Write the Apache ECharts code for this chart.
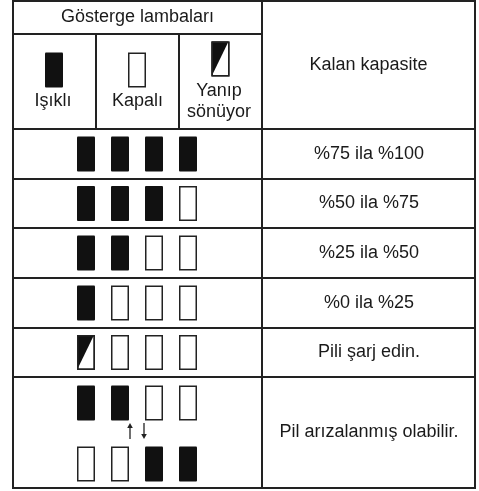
<!DOCTYPE html>
<html><head><meta charset="utf-8">
<script src="https://cdn.jsdelivr.net/npm/echarts@6/dist/echarts.min.js"></script>
<style>html,body{margin:0;padding:0;background:#fff}#c{width:479px;height:491px}</style>
</head><body><div id="c"></div>
<script>
// ---- data ----
const headerTitle = 'Gösterge lambaları';
const capacityHeader = 'Kalan kapasite';
const legendLabels = ['Işıklı', 'Kapalı', 'Yanıp\nsönüyor'];
const legendStates = ['on', 'off', 'blink'];
const capacityLabels = ['%75 ila %100', '%50 ila %75', '%25 ila %50', '%0 ila %25', 'Pili şarj edin.', 'Pil arızalanmış olabilir.'];
const lampRows = [
  [['on', 'on', 'on', 'on']],
  [['on', 'on', 'on', 'off']],
  [['on', 'on', 'off', 'off']],
  [['on', 'off', 'off', 'off']],
  [['blink', 'off', 'off', 'off']],
  [['on', 'on', 'off', 'off'], ['off', 'off', 'on', 'on']]
];

// ---- layout (axis units = pixels) ----
const L = 13, R = 475, T = 1, B = 488, MID = 262;
const subCols = [96, 179];
const rowEdges = [129, 179, 228, 278, 328, 377, B];
const slotX = [86, 120, 154, 188];
const legendIconPos = [[54, 70], [137, 70], [220.5, 59]];
const legendTextPos = [[53, 101], [137.5, 101], [219, 102]];
const stateCode = { on: 0, off: 1, blink: 2 };
const INK = '#1a1a1a';
const FONT = '"Liberation Sans", Arial, sans-serif';
const FS = 18;

// segments
const segs = [];
segs.push([L, T, R, T], [L, B, R, B], [L, T, L, B], [R, T, R, B], [MID, T, MID, B]);
segs.push([L, 34, MID, 34]);
rowEdges.slice(0, -1).forEach(y => segs.push([L, y, R, y]));
subCols.forEach(x => segs.push([x, 34, x, 129]));

// icons
const icons = [];
legendStates.forEach((s, i) => icons.push([legendIconPos[i][0], legendIconPos[i][1], stateCode[s]]));
lampRows.forEach((row, r) => {
  const y0 = rowEdges[r], y1 = rowEdges[r + 1];
  if (row.length === 1) {
    const cy = (y0 + y1) / 2;
    row[0].forEach((s, k) => icons.push([slotX[k], cy, stateCode[s]]));
  } else {
    const cys = [403, 464];
    row.forEach((sub, j) => sub.forEach((s, k) => icons.push([slotX[k], cys[j], stateCode[s]])));
  }
});

// texts
const texts = [];
const textPos = [];
texts.push(headerTitle); textPos.push([(L + MID) / 2, 17.5]);
texts.push(capacityHeader); textPos.push([(MID + R) / 2, 65]);
legendLabels.forEach((t, i) => { texts.push(t); textPos.push(legendTextPos[i]); });
capacityLabels.forEach((t, i) => { texts.push(t); textPos.push([(MID + R) / 2 + 0.5, (rowEdges[i] + rowEdges[i + 1]) / 2]); });

// arrows [x, yFrom, yTo]
const arrows = [[130, 439, 423], [144, 423, 439]];

const chart = echarts.init(document.getElementById('c'), null, { renderer: 'canvas' });
chart.setOption({
  animation: false,
  backgroundColor: '#fff',
  grid: { left: 0, right: 0, top: 0, bottom: 0 },
  xAxis: { type: 'value', min: 0, max: 479, show: false },
  yAxis: { type: 'value', min: 0, max: 491, inverse: true, show: false },
  series: [
    {
      type: 'custom', coordinateSystem: 'cartesian2d', clip: false,
      data: segs,
      renderItem: (p, api) => {
        const a = api.coord([api.value(0), api.value(1)]);
        const b = api.coord([api.value(2), api.value(3)]);
        return { type: 'line', shape: { x1: a[0], y1: a[1], x2: b[0], y2: b[1] }, style: { stroke: '#222', lineWidth: 2, lineCap: 'square' } };
      }
    },
    {
      type: 'custom', coordinateSystem: 'cartesian2d', clip: false,
      data: icons,
      renderItem: (p, api) => {
        const c = api.coord([api.value(0), api.value(1)]);
        const st = api.value(2);
        const w = 18, h = 35;
        const x = c[0] - w / 2, y = c[1] - h / 2;
        if (st === 0) {
          return { type: 'rect', shape: { x: x, y: y, width: w, height: h, r: 1 }, style: { fill: '#111' } };
        }
        const children = [
          { type: 'rect', shape: { x: x + 0.75, y: y + 0.75, width: w - 1.5, height: h - 1.5 }, style: { fill: '#fff', stroke: '#222', lineWidth: 1.5 } }
        ];
        if (st === 2) {
          children.push({ type: 'polygon', shape: { points: [[x, y], [x + w - 1, y], [x, y + h]] }, style: { fill: '#111' } });
          children.push({ type: 'rect', shape: { x: x + 0.75, y: y + 0.75, width: w - 1.5, height: h - 1.5 }, style: { fill: 'none', stroke: '#222', lineWidth: 1.5 } });
        }
        return { type: 'group', children: children };
      }
    },
    {
      type: 'custom', coordinateSystem: 'cartesian2d', clip: false,
      data: arrows,
      renderItem: (p, api) => {
        const a = api.coord([api.value(0), api.value(1)]);
        const b = api.coord([api.value(0), api.value(2)]);
        const dir = b[1] > a[1] ? 1 : -1;
        return {
          type: 'group', children: [
            { type: 'line', shape: { x1: a[0], y1: a[1], x2: b[0], y2: b[1] - dir * 3 }, style: { stroke: '#222', lineWidth: 1.3 } },
            { type: 'polygon', shape: { points: [[b[0], b[1]], [b[0] - 2.8, b[1] - dir * 5], [b[0] + 2.8, b[1] - dir * 5]] }, style: { fill: '#222' } }
          ]
        };
      }
    },
    {
      type: 'custom', coordinateSystem: 'cartesian2d', clip: false,
      data: textPos,
      renderItem: (p, api) => {
        const c = api.coord([api.value(0), api.value(1)]);
        return {
          type: 'text', x: c[0], y: c[1],
          style: { text: texts[p.dataIndex], fill: INK, font: FS + 'px ' + FONT, align: 'center', verticalAlign: 'middle', lineHeight: 21 }
        };
      }
    }
  ]
});
</script></body></html>
